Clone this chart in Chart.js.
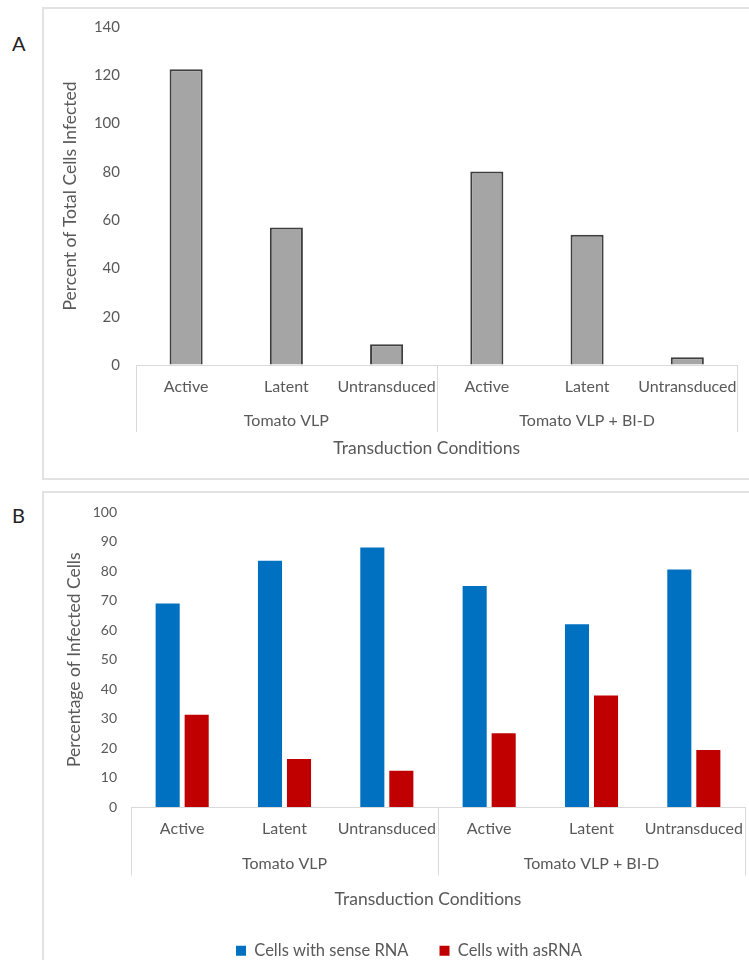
<!DOCTYPE html>
<html>
<head>
<meta charset="utf-8">
<script src="https://cdn.jsdelivr.net/npm/chart.js@4"></script>
<style>
  html, body { margin: 0; padding: 0; background: #fff; overflow: hidden; width: 749px; height: 960px; }
  .panel { position: absolute; border: 2px solid #e2e2e2; border-right: none; box-sizing: border-box; }
  .tag { position: absolute; font-family: Lato, "Liberation Sans", sans-serif; font-size: 20px; color: #222; }
  canvas { position: absolute; }
</style>
</head>
<body>
<div class="panel" style="left:42px; top:7px; width:720px; height:473px;"></div>
<div class="panel" style="left:42px; top:491px; width:740px; height:500px;"></div>
<div class="tag" style="left:12px; top:31px;">A</div>
<div class="tag" style="left:12px; top:503px;">B</div>
<canvas id="chartA" width="706" height="471" style="left:43px; top:8px;"></canvas>
<canvas id="chartB" width="732" height="477" style="left:43px; top:492px;"></canvas>
<script>
// ---- data ----
const conditions = ['Active', 'Latent', 'Untransduced'];
const groups = ['Tomato VLP', 'Tomato VLP + BI-D'];
const percentInfected = [122.5, 57, 8.6, 80.1, 53.9, 3.2];
const senseRNA = [69, 83.5, 88, 75, 62, 80.5];
const asRNA = [31.4, 16.4, 12.4, 25.1, 37.9, 19.5];
const seriesNames = ['Cells with sense RNA', 'Cells with asRNA'];
const yTitleA = 'Percent of Total Cells Infected';
const yTitleB = 'Percentage of Infected Cells';
const xTitle = 'Transduction Conditions';
const yMaxA = 140, yStepA = 20;
const yMaxB = 100, yStepB = 10;

const labels = [];
groups.forEach(() => conditions.forEach(c => labels.push(c)));

const FONT = 'Lato, "Liberation Sans", sans-serif';
const GREY = '#595959';
const LINE = '#d9d9d9';
const TITLE_SIZE = 17.5;

function groupAxisPlugin(sepDrop, groupDy, titleDy, titleDx) {
  return {
    id: 'groupAxis',
    afterDraw(chart) {
      const ctx = chart.ctx;
      const xs = chart.scales.x;
      const bottom = chart.chartArea.bottom;
      const n = conditions.length;
      ctx.save();
      ctx.strokeStyle = LINE;
      ctx.lineWidth = 1;
      const half = (xs.getPixelForValue(1) - xs.getPixelForValue(0)) / 2;
      for (let g = 0; g <= groups.length; g++) {
        let x;
        if (g === 0) x = xs.getPixelForValue(0) - half;
        else x = xs.getPixelForValue(g * n - 1) + half;
        x = Math.round(x) + 0.5;
        ctx.beginPath();
        ctx.moveTo(x, bottom);
        ctx.lineTo(x, bottom + sepDrop);
        ctx.stroke();
      }
      ctx.fillStyle = GREY;
      ctx.font = '16px ' + FONT;
      ctx.textAlign = 'center';
      ctx.textBaseline = 'middle';
      groups.forEach((name, g) => {
        const cx = (xs.getPixelForValue(g * n) + xs.getPixelForValue(g * n + n - 1)) / 2;
        ctx.fillText(name, cx, bottom + groupDy);
      });
      ctx.font = TITLE_SIZE + 'px ' + FONT;
      ctx.fillText(xTitle, (xs.left + xs.right) / 2 + titleDx, bottom + titleDy);
      ctx.restore();
    }
  };
}

function commonX(h) {
  return {
    ticks: { color: GREY, font: { family: FONT, size: 16 }, autoSkip: false, maxRotation: 0, padding: 12 },
    grid: { display: false, drawTicks: false },
    border: { display: true, color: LINE, width: 1 },
    afterFit(s) { s.height = h; }
  };
}

function commonY(max, step, fontSize, gap, title, titlePad, width) {
  return {
    min: 0, max: max,
    ticks: { stepSize: step, color: GREY, font: { family: FONT, size: fontSize }, padding: 4 },
    grid: { display: true, drawOnChartArea: false, drawTicks: true, tickLength: gap - 4, color: 'rgba(0,0,0,0)', tickColor: 'rgba(0,0,0,0)' },
    border: { display: false },
    title: { display: true, text: title, color: GREY, font: { family: FONT, size: TITLE_SIZE }, padding: { top: titlePad, bottom: 0 } },
    afterFit(s) { s.width = width; }
  };
}

function spacerAxis(w) {
  return {
    position: 'right', display: true,
    ticks: { display: false },
    grid: { display: false, drawTicks: false },
    border: { display: false },
    afterFit(s) { s.width = w; }
  };
}

new Chart(document.getElementById('chartA'), {
  type: 'bar',
  data: {
    labels: labels,
    datasets: [{
      data: percentInfected,
      backgroundColor: '#a5a5a5',
      borderColor: '#3f3f3f',
      borderWidth: 2,
      categoryPercentage: 1,
      barPercentage: 0.33
    }]
  },
  options: {
    responsive: false, animation: false, devicePixelRatio: 1,
    layout: { padding: { left: 0, right: 6, top: 19, bottom: 0 } },
    plugins: { legend: { display: false }, tooltip: { enabled: false } },
    scales: {
      x: commonX(114),
      y: commonY(yMaxA, yStepA, 15, 16, yTitleA, 16.5, 93)
    }
  },
  plugins: [groupAxisPlugin(67, 56, 83, -10)]
});

new Chart(document.getElementById('chartB'), {
  type: 'bar',
  data: {
    labels: labels,
    datasets: [
      { label: seriesNames[0], data: senseRNA, backgroundColor: '#0070c0', categoryPercentage: 0.567, barPercentage: 0.83, yAxisID: 'y' },
      { label: seriesNames[1], data: asRNA, backgroundColor: '#c00000', categoryPercentage: 0.567, barPercentage: 0.83, yAxisID: 'y' }
    ]
  },
  options: {
    responsive: false, animation: false, devicePixelRatio: 1,
    layout: { padding: { left: 0, right: 0, top: 20, bottom: 0 } },
    plugins: {
      legend: {
        position: 'bottom',
        labels: { color: GREY, font: { family: FONT, size: 16.5 }, boxWidth: 10, boxHeight: 10, padding: 31 }
      },
      tooltip: { enabled: false }
    },
    scales: {
      x: commonX(104),
      y: commonY(yMaxB, yStepB, 14, 14, yTitleB, 20.5, 88),
      yR: spacerAxis(30)
    }
  },
  plugins: [groupAxisPlugin(68, 56, 92, -10)]
});
</script>
</body>
</html>
